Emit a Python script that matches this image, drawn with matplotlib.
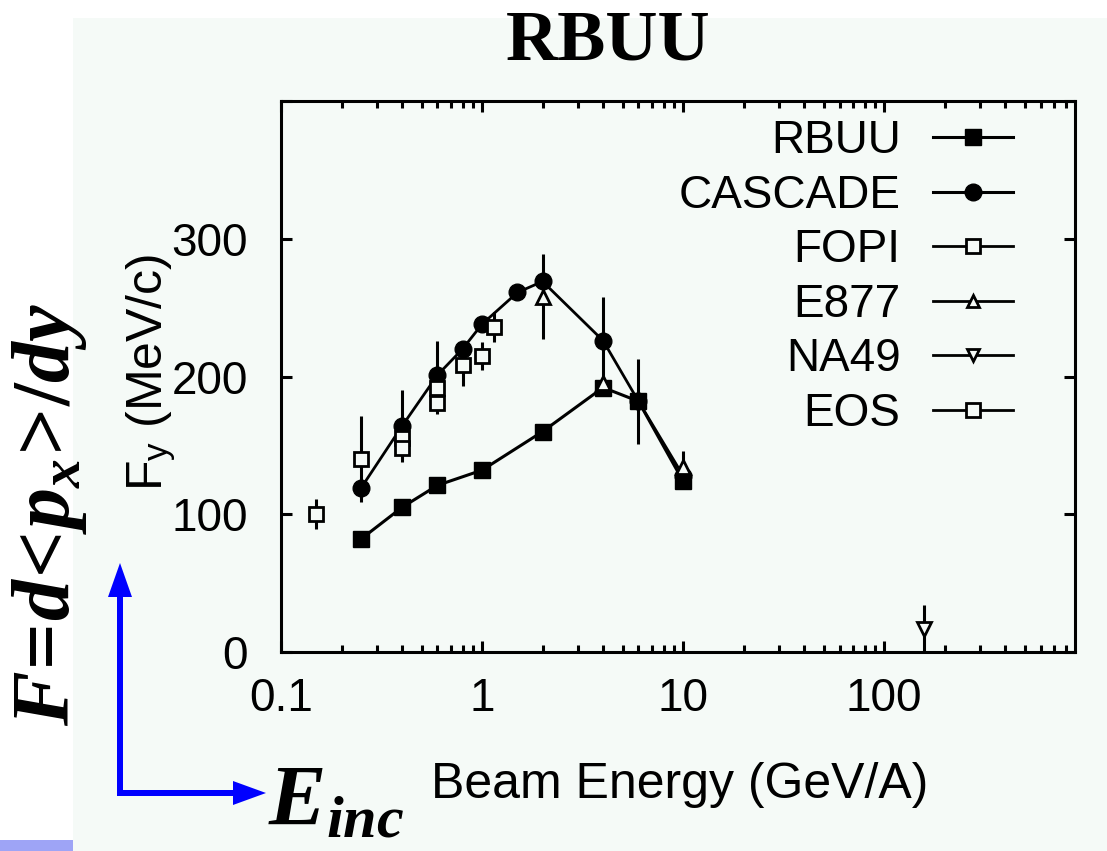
import matplotlib
matplotlib.use('Agg')
import matplotlib.pyplot as plt
from matplotlib.lines import Line2D
from matplotlib.patches import Rectangle, FancyArrow
from matplotlib.ticker import FixedLocator, FixedFormatter, LogLocator, NullFormatter

plt.rcParams['font.family'] = ['Liberation Sans', 'DejaVu Sans']
plt.rcParams['mathtext.fontset'] = 'custom'
plt.rcParams['mathtext.it'] = 'Liberation Serif:italic:bold'
plt.rcParams['mathtext.rm'] = 'Liberation Serif:bold'
plt.rcParams['mathtext.bf'] = 'Liberation Serif:bold'
plt.rcParams['mathtext.sf'] = 'Liberation Sans'

# beam energy (GeV/A) and flow F_y (MeV/c)
rbuu_e = [0.25, 0.4, 0.6, 1.0, 2.0, 4.0, 6.0, 10.0]
rbuu_f = [82, 105, 121, 132, 160, 192, 182, 124]

casc_e = [0.25, 0.4, 0.6, 0.8, 1.0, 1.5, 2.0, 4.0, 6.0, 10.0]
casc_f = [119, 164, 201, 220, 238, 261, 269, 226, 182, 128]
casc_err = [0, 26, 25, 0, 0, 0, 0, 32, 31, 0]

fopi_e = [0.15, 0.25, 0.4, 0.6]
fopi_f = [100, 140, 155, 192]
fopi_err = [11, 31, 5, 5]

e877_e = [2.0, 4.0, 10.0]
e877_f = [258, 195, 134]
e877_err = [31, 0, 12]

na49_e = [158]
na49_f = [17]
na49_err = [17]

eos_e = [0.4, 0.6, 0.8, 1.0, 1.15]
eos_f = [148, 181, 208, 215, 236]
eos_err = [7, 8, 15, 10, 11]

x_ticks = [0.1, 1, 10, 100]
x_ticklabels = ['0.1', '1', '10', '100']
y_ticks = [0, 100, 200, 300, 400]
y_ticklabels = ['0', '100', '200', '300', '']

PANEL = '#f5faf7'
W, H = 1107, 851

fig = plt.figure(figsize=(W / 100, H / 100), dpi=100)
fig.patch.set_facecolor('white')

# background panel, arrows and slide text in pixel coords
bg = fig.add_axes([0, 0, 1, 1], zorder=0)
bg.set_xlim(0, W)
bg.set_ylim(H, 0)
bg.axis('off')
bg.add_patch(Rectangle((73, 18), W - 73, H - 18, color=PANEL, lw=0))
bg.add_patch(Rectangle((0, 840), 73, 11, color='#9ea4f6', lw=0))
bg.add_patch(FancyArrow(120, 796, 0, -233, width=6, head_width=24, head_length=34,
                        length_includes_head=True, color='#0000ff', lw=0))
bg.add_patch(FancyArrow(117, 793, 149, 0, width=6, head_width=24, head_length=33,
                        length_includes_head=True, color='#0000ff', lw=0))
bg.text(50, 515, r'$F\!\mathrm{=}\!d\!\mathrm{<}\!p_x\!\mathrm{>}\!\mathrm{/}dy$', rotation=90,
        fontsize=59, ha='center', va='center')
bg.text(268, 826, r'$E_{inc}$', fontsize=62, ha='left', va='baseline')

ax = fig.add_axes([281 / W, 1 - 652 / H, 794 / W, 551 / H], zorder=1)
ax.set_facecolor('none')

ax.plot(rbuu_e, rbuu_f, color='black', lw=2.2, marker='s', ms=11, zorder=4)
ax.errorbar(casc_e, casc_f, yerr=casc_err, color='black', lw=2, elinewidth=2.2,
            marker='o', ms=12, capsize=0, zorder=4)
ax.errorbar(fopi_e, fopi_f, yerr=fopi_err, ls='none', color='black', elinewidth=2.2,
            marker='s', ms=10, mfc=PANEL, mew=2, capsize=0, zorder=5)
ax.errorbar(eos_e, eos_f, yerr=eos_err, ls='none', color='black', elinewidth=2.2,
            marker='s', ms=10, mfc=PANEL, mew=2, capsize=0, zorder=5)
ax.errorbar(e877_e, e877_f, yerr=e877_err, ls='none', color='black', elinewidth=2.2,
            marker='^', ms=10, mfc=PANEL, mew=2, capsize=0, zorder=5)
ax.errorbar(na49_e, na49_f, yerr=na49_err, ls='none', color='black', elinewidth=2.2,
            marker='v', ms=10, mfc=PANEL, mew=2, capsize=0, zorder=5)

ax.set_xscale('log')
ax.set_xlim(0.1, 890)
ax.set_ylim(0, 400)

ax.xaxis.set_major_locator(FixedLocator(x_ticks))
ax.xaxis.set_major_formatter(FixedFormatter(x_ticklabels))
ax.xaxis.set_minor_locator(LogLocator(base=10, subs=range(2, 10), numticks=20))
ax.xaxis.set_minor_formatter(NullFormatter())
ax.yaxis.set_major_locator(FixedLocator(y_ticks))
ax.yaxis.set_major_formatter(FixedFormatter(y_ticklabels))

ax.tick_params(which='both', direction='in', top=True, right=True, width=2.2,
               labelsize=33, colors='black')
ax.tick_params(which='major', length=8)
ax.tick_params(which='minor', length=5)
ax.tick_params(axis='x', pad=18)
ax.tick_params(axis='y', pad=24)
for s in ax.spines.values():
    s.set_linewidth(2.2)

handles = [
    Line2D([], [], color='black', lw=2.2, marker='s', ms=11),
    Line2D([], [], color='black', lw=2.2, marker='o', ms=12),
    Line2D([], [], color='black', lw=2, marker='s', ms=10, mfc=PANEL, mew=2),
    Line2D([], [], color='black', lw=2, marker='^', ms=9, mfc=PANEL, mew=2),
    Line2D([], [], color='black', lw=2, marker='v', ms=9, mfc=PANEL, mew=2),
    Line2D([], [], color='black', lw=2, marker='s', ms=10, mfc=PANEL, mew=2),
]
labels = ['RBUU', 'CASCADE', 'FOPI', 'E877', 'NA49', 'EOS']
ax.legend(handles, labels, loc='upper right',
          bbox_to_anchor=((1022 - 281) / 794, 1 - 9 / 551),
          frameon=False, markerfirst=False, fontsize=33, handlelength=1.75,
          handletextpad=0.7, labelspacing=0.23, borderpad=0.2, borderaxespad=0)

fig.text(151 / W, 1 - 372 / H, r'F$_\mathsf{y}$ (MeV/c)', rotation=90, fontsize=36,
         ha='center', va='center')
fig.text(680 / W, 1 - 785 / H, 'Beam Energy (GeV/A)', fontsize=36,
         ha='center', va='center')
fig.text(608 / W, 1 - 42 / H, 'RBUU', family='Liberation Serif', weight='bold',
         fontsize=52, ha='center', va='center')

fig.savefig('out.png', dpi=100, facecolor=fig.get_facecolor())
